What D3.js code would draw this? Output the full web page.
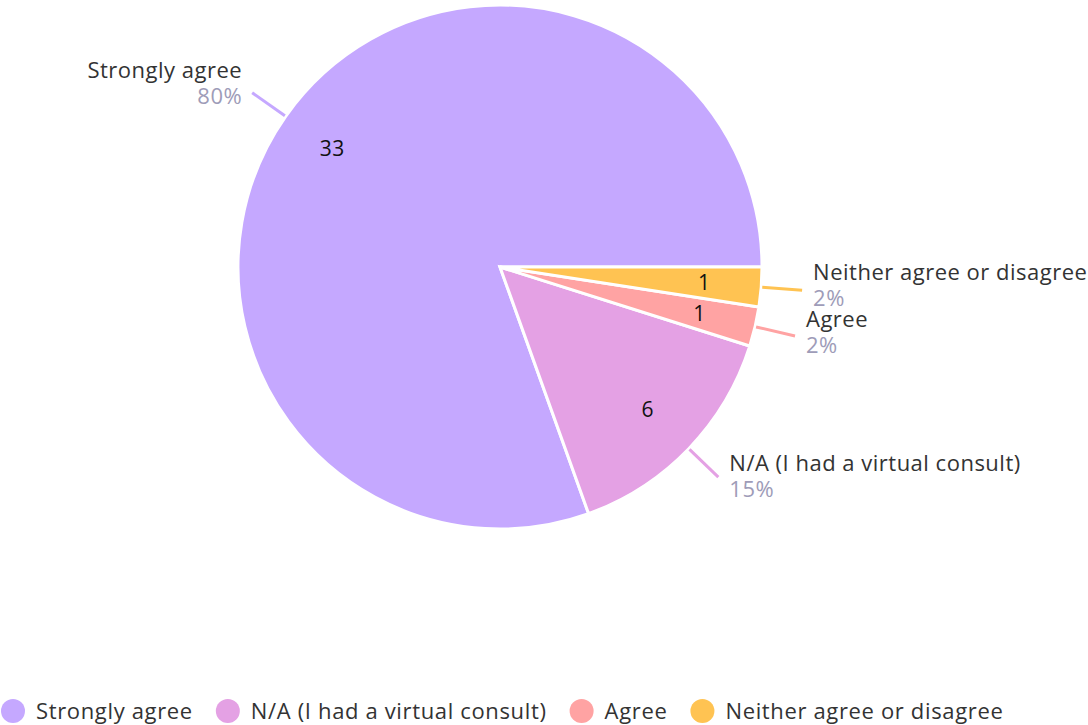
<!DOCTYPE html>
<html>
<head>
<meta charset="utf-8">
<script src="https://cdn.jsdelivr.net/npm/d3@7"></script>
<style>
  html, body { margin: 0; padding: 0; background: #fff; }
  svg { display: block; font-family: "Open Sans", Lato, sans-serif; }
</style>
</head>
<body>
<svg id="chart" width="1088" height="725"></svg>
<script>
const categories = ["Strongly agree", "N/A (I had a virtual consult)", "Agree", "Neither agree or disagree"];
const values = [33, 6, 1, 1];
const percentLabels = ["80%", "15%", "2%", "2%"];
const colors = ["#c5a8ff", "#e4a1e4", "#ffa3a3", "#ffc352"];

const svg = d3.select("#chart");
const cx = 500, cy = 267, R = 262;
const FS = 22;
const LS = "0.65px";
const LS_OUT = "0.5px";

const data = categories.map((c, i) => ({ name: c, value: values[i], pct: percentLabels[i], color: colors[i] }));

const pie = d3.pie()
  .value(d => d.value)
  .sort(null)
  .startAngle(Math.PI / 2)
  .endAngle(Math.PI / 2 - 2 * Math.PI);

const arcs = pie(data);
const arc = d3.arc().innerRadius(0).outerRadius(R);
const labelArc = d3.arc().innerRadius(205).outerRadius(205);

const g = svg.append("g").attr("transform", `translate(${cx},${cy})`);

g.selectAll("path.slice")
  .data(arcs)
  .join("path")
  .attr("class", "slice")
  .attr("d", arc)
  .attr("fill", d => d.data.color)
  .attr("stroke", "#fff")
  .attr("stroke-width", 3)
  .attr("stroke-linejoin", "miter");

// inner value labels
g.selectAll("text.val")
  .data(arcs)
  .join("text")
  .attr("class", "val")
  .attr("transform", d => `translate(${labelArc.centroid(d)})`)
  .attr("text-anchor", "middle")
  .attr("dy", "0.35em")
  .attr("font-size", 21)
  .attr("letter-spacing", LS)
  .attr("fill", "#111")
  .text(d => d.data.value);

// leader lines + outer labels
const mid = d => (d.startAngle + d.endAngle) / 2;
const pt = (a, r) => [Math.sin(a) * r, -Math.cos(a) * r];

arcs.forEach(d => {
  const a = mid(d);
  const p0 = pt(a, R + 1);
  const p1 = pt(a, R + 41);
  g.append("line")
    .attr("x1", p0[0]).attr("y1", p0[1])
    .attr("x2", p1[0]).attr("y2", p1[1])
    .attr("stroke", d.data.color)
    .attr("stroke-width", 3);
  const right = Math.sin(a) > 0;
  const dyUnit = -Math.cos(a);
  const tx = p1[0] + (right ? 11 : -10);
  const nameY = p1[1] - 11 + 7 * dyUnit;
  const t = g.append("text")
    .attr("text-anchor", right ? "start" : "end")
    .attr("font-size", FS)
    .attr("letter-spacing", LS_OUT);
  t.append("tspan")
    .attr("x", tx).attr("y", nameY)
    .attr("fill", "#333")
    .text(d.data.name);
  t.append("tspan")
    .attr("x", tx).attr("y", nameY + 26)
    .attr("fill", "#9e9cb8")
    .text(d.data.pct);
});

// legend
const legend = svg.append("g").attr("transform", `translate(0, 711)`);
let x = 13;
data.forEach(d => {
  legend.append("circle")
    .attr("cx", x).attr("cy", 0).attr("r", 12)
    .attr("fill", d.color);
  const t = legend.append("text")
    .attr("x", x + 23).attr("y", 0)
    .attr("dy", "0.35em")
    .attr("font-size", FS)
    .attr("letter-spacing", LS)
    .attr("fill", "#333")
    .text(d.name);
  const w = t.node().getComputedTextLength();
  x = x + 23 + w + 23 + 12;
});
</script>
</body>
</html>
